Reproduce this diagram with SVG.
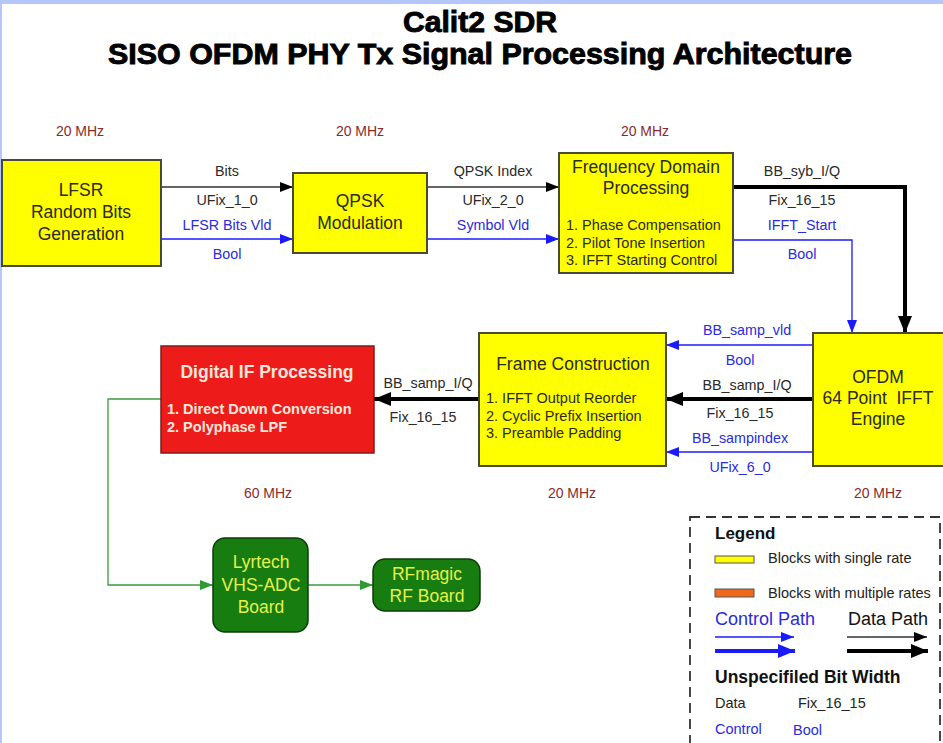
<svg xmlns="http://www.w3.org/2000/svg" width="943" height="743" viewBox="0 0 943 743">
  <style>
    .blk { fill: #ffff00; stroke: #4a4a3a; stroke-width: 2; }
    .t { font-family: "Liberation Sans", Arial, sans-serif; }
    .name { font-size: 17.5px; fill: #2a2a1a; text-anchor: middle; }
    .item { font-size: 14.5px; fill: #2a2a1a; }
    .lbl { font-size: 14.3px; fill: #2a2a2a; text-anchor: middle; }
    .mhz { font-size: 14px; fill: #8b2a2a; text-anchor: middle; }
    .leg { font-size: 14.5px; fill: #222; }
    .ctl { fill: #2a2ae0; }
    .dline { stroke: #333; stroke-width: 1.3; fill: none; }
    .dthick { stroke: #000; stroke-width: 4; fill: none; }
    .cline { stroke: #1a1aff; stroke-width: 1.3; fill: none; }
    .gline { stroke: #3a9a40; stroke-width: 1.3; fill: none; }
    .green { fill: #177d10; stroke: #0c3c0a; stroke-width: 1.5; }
    .gtext { font-size: 17.5px; fill: #e4f24a; text-anchor: middle; }
  </style>
  <defs>
    <marker id="ahD" markerUnits="userSpaceOnUse" markerWidth="14" markerHeight="10" refX="13" refY="5" orient="auto">
      <path d="M0,0 L13,5 L0,10 z" fill="#000"/>
    </marker>
    <marker id="ahC" markerUnits="userSpaceOnUse" markerWidth="14" markerHeight="10" refX="13" refY="5" orient="auto">
      <path d="M0,0 L13,5 L0,10 z" fill="#1a1aff"/>
    </marker>
    <marker id="ahT" markerUnits="userSpaceOnUse" markerWidth="18" markerHeight="14" refX="17" refY="7" orient="auto">
      <path d="M0,0 L17,7 L0,14 z" fill="#000"/>
    </marker>
    <marker id="ahCT" markerUnits="userSpaceOnUse" markerWidth="18" markerHeight="14" refX="17" refY="7" orient="auto">
      <path d="M0,0 L17,7 L0,14 z" fill="#1a1aff"/>
    </marker>
    <marker id="ahG" markerUnits="userSpaceOnUse" markerWidth="14" markerHeight="10" refX="13" refY="5" orient="auto">
      <path d="M0,0 L13,5 L0,10 z" fill="#2f9a36"/>
    </marker>
  </defs>

  <!-- page -->
  <rect x="0" y="0" width="943" height="743" fill="#ffffff"/>
  <rect x="0" y="0" width="943" height="4" fill="#b4c6fa"/>
  <rect x="0" y="0" width="2" height="743" fill="#b4c6fa"/>

  <!-- title -->
  <g id="title" class="t" font-weight="bold" fill="#000" stroke="#000" stroke-width="0.9" text-anchor="middle">
    <text x="480" y="32" font-size="29" textLength="154" lengthAdjust="spacingAndGlyphs">Calit2 SDR</text>
    <text x="480" y="64" font-size="29" textLength="744" lengthAdjust="spacingAndGlyphs">SISO OFDM PHY Tx Signal Processing Architecture</text>
  </g>

  <!-- clock rates -->
  <g id="rates" class="t mhz">
    <text x="80" y="136">20 MHz</text>
    <text x="360" y="136">20 MHz</text>
    <text x="645" y="136">20 MHz</text>
    <text x="268" y="498">60 MHz</text>
    <text x="572" y="498">20 MHz</text>
    <text x="878" y="498">20 MHz</text>
  </g>

  <!-- connectors -->
  <g id="connectors">
    <line class="dline" x1="161" y1="187" x2="293" y2="187" marker-end="url(#ahD)"/>
    <line class="cline" x1="161" y1="239" x2="293" y2="239" marker-end="url(#ahC)"/>
    <line class="dline" x1="427" y1="187" x2="559" y2="187" marker-end="url(#ahD)"/>
    <line class="cline" x1="427" y1="239" x2="559" y2="239" marker-end="url(#ahC)"/>
    <polyline class="dthick" points="733,187 905,187 905,333" marker-end="url(#ahT)"/>
    <polyline class="cline" points="733,240 852,240 852,333" marker-end="url(#ahC)"/>
    <line class="cline" x1="813" y1="345" x2="666" y2="345" marker-end="url(#ahC)"/>
    <line class="dthick" x1="813" y1="399" x2="666" y2="399" marker-end="url(#ahT)"/>
    <line class="cline" x1="813" y1="452" x2="666" y2="452" marker-end="url(#ahC)"/>
    <line class="dthick" x1="479" y1="399" x2="374" y2="399" marker-end="url(#ahT)"/>
    <polyline class="gline" points="161,399 108,399 108,585 213,585" marker-end="url(#ahG)"/>
    <line class="gline" x1="308" y1="585" x2="373" y2="585" marker-end="url(#ahG)"/>
  </g>

  <!-- connector labels -->
  <g id="labels" class="t lbl">
    <text x="227" y="176">Bits</text>
    <text x="227" y="205">UFix_1_0</text>
    <text x="227" y="230" class="ctl">LFSR Bits Vld</text>
    <text x="227" y="259" class="ctl">Bool</text>
    <text x="493" y="176">QPSK Index</text>
    <text x="493" y="205">UFix_2_0</text>
    <text x="493" y="230" class="ctl">Symbol Vld</text>
    <text x="802" y="176">BB_syb_I/Q</text>
    <text x="802" y="205">Fix_16_15</text>
    <text x="802" y="230" class="ctl">IFFT_Start</text>
    <text x="802" y="259" class="ctl">Bool</text>
    <text x="747" y="335" class="ctl">BB_samp_vld</text>
    <text x="740" y="365" class="ctl">Bool</text>
    <text x="747" y="390">BB_samp_I/Q</text>
    <text x="740" y="418">Fix_16_15</text>
    <text x="740" y="443" class="ctl">BB_sampindex</text>
    <text x="740" y="472" class="ctl">UFix_6_0</text>
    <text x="428" y="388">BB_samp_I/Q</text>
    <text x="423" y="422">Fix_16_15</text>
  </g>

  <!-- nodes -->
  <g id="lfsr" class="t">
    <rect class="blk" x="2" y="160" width="159" height="106"/>
    <text class="name" x="81" y="196">LFSR</text>
    <text class="name" x="81" y="218">Random Bits</text>
    <text class="name" x="81" y="240">Generation</text>
  </g>

  <g id="qpsk" class="t">
    <rect class="blk" x="293" y="173" width="134" height="80"/>
    <text class="name" x="360" y="207">QPSK</text>
    <text class="name" x="360" y="229">Modulation</text>
  </g>

  <g id="freq-domain" class="t">
    <rect class="blk" x="559" y="153" width="174" height="120"/>
    <text class="name" x="646" y="173">Frequency Domain</text>
    <text class="name" x="646" y="194">Processing</text>
    <text class="item" x="566" y="230">1. Phase Compensation</text>
    <text class="item" x="566" y="248">2. Pilot Tone Insertion</text>
    <text class="item" x="566" y="265">3. IFFT Starting Control</text>
  </g>

  <g id="ofdm" class="t">
    <rect class="blk" x="813" y="333" width="131" height="133"/>
    <text class="name" x="878" y="383">OFDM</text>
    <text class="name" x="878" y="404" xml:space="preserve">64 Point  IFFT</text>
    <text class="name" x="878" y="425">Engine</text>
  </g>

  <g id="frame-construction" class="t">
    <rect class="blk" x="479" y="333" width="187" height="133"/>
    <text class="name" x="573" y="370">Frame Construction</text>
    <text class="item" x="486" y="403">1. IFFT Output Reorder</text>
    <text class="item" x="486" y="421">2. Cyclic Prefix Insertion</text>
    <text class="item" x="486" y="438">3. Preamble Padding</text>
  </g>

  <g id="digital-if" class="t">
    <rect x="161" y="346" width="213" height="107" fill="#ee1b1b" stroke="#7a1e1e" stroke-width="1.5"/>
    <text x="267" y="378" font-size="17.5" font-weight="bold" fill="#fbe8dc" text-anchor="middle">Digital IF Processing</text>
    <text x="167" y="414" font-size="14.5" font-weight="bold" fill="#fbe8dc">1. Direct Down Conversion</text>
    <text x="167" y="432" font-size="14.5" font-weight="bold" fill="#fbe8dc">2. Polyphase LPF</text>
  </g>

  <g id="lyrtech" class="t">
    <rect class="green" x="213" y="538" width="95" height="94" rx="12"/>
    <text class="gtext" x="261" y="568">Lyrtech</text>
    <text class="gtext" x="261" y="591">VHS-ADC</text>
    <text class="gtext" x="261" y="613">Board</text>
  </g>

  <g id="rfmagic" class="t">
    <rect class="green" x="373" y="559" width="107" height="52" rx="12"/>
    <text class="gtext" x="427" y="580">RFmagic</text>
    <text class="gtext" x="427" y="602">RF Board</text>
  </g>

  <!-- legend -->
  <g id="legend" class="t">
    <rect x="690" y="517" width="250" height="240" fill="none" stroke="#333" stroke-width="1.8" stroke-dasharray="10,6"/>
    <text x="715" y="539" font-size="17" font-weight="bold" fill="#111">Legend</text>
    <rect x="715" y="556" width="39" height="7" fill="#ffff00" stroke="#555" stroke-width="1"/>
    <text class="leg" x="768" y="563">Blocks with single rate</text>
    <rect x="715" y="589" width="39" height="8" fill="#ee6a1a" stroke="#555" stroke-width="1"/>
    <text class="leg" x="768" y="598">Blocks with multiple rates</text>
    <text x="715" y="625" font-size="18" fill="#2a2ae0">Control Path</text>
    <text x="848" y="625" font-size="18" fill="#111">Data Path</text>
    <line class="cline" x1="715" y1="637" x2="794" y2="637" marker-end="url(#ahC)"/>
    <line x1="715" y1="651" x2="795" y2="651" stroke="#1a1aff" stroke-width="4" marker-end="url(#ahCT)"/>
    <line class="dline" x1="847" y1="637" x2="927" y2="637" marker-end="url(#ahD)"/>
    <line class="dthick" x1="847" y1="651" x2="928" y2="651" marker-end="url(#ahT)"/>
    <text x="715" y="683" font-size="17.5" font-weight="bold" fill="#111">Unspecifiled Bit Width</text>
    <text class="leg" x="715" y="708">Data</text>
    <text class="leg" x="798" y="708">Fix_16_15</text>
    <text class="leg ctl" x="715" y="734">Control</text>
    <text class="leg ctl" x="793" y="735">Bool</text>
  </g>
</svg>
